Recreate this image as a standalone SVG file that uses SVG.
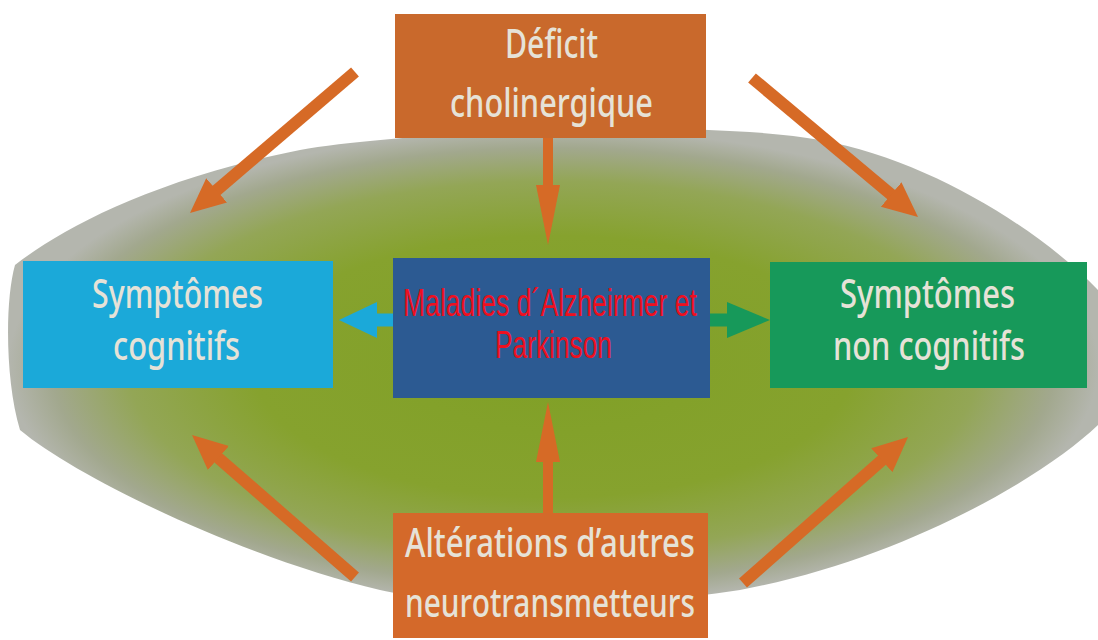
<svg xmlns="http://www.w3.org/2000/svg" width="1098" height="640" viewBox="0 0 1098 640">
  <defs>
    <radialGradient id="blobGrad" cx="50%" cy="50%" r="50%">
      <stop offset="0" stop-color="#80a026"/>
      <stop offset="0.55" stop-color="#86a22e"/>
      <stop offset="0.78" stop-color="#93a656"/>
      <stop offset="0.92" stop-color="#a2a88e"/>
      <stop offset="1" stop-color="#b4b6ae"/>
    </radialGradient>
    <marker id="headOrange" markerUnits="userSpaceOnUse" markerWidth="40" markerHeight="36" viewBox="0 -18 40 36" refX="2" refY="0" orient="auto">
      <path d="M0,-16 L35,0 L0,16 Z" fill="#d66a26"/>
    </marker>
    <marker id="headOrangeV" markerUnits="userSpaceOnUse" markerWidth="64" markerHeight="28" viewBox="0 -14 64 28" refX="2" refY="0" orient="auto">
      <path d="M0,-12 L60,0 L0,12 Z" fill="#d66a26"/>
    </marker>
    <marker id="headCyan" markerUnits="userSpaceOnUse" markerWidth="44" markerHeight="40" viewBox="0 -20 44 40" refX="2" refY="0" orient="auto">
      <path d="M0,-18 L38,0 L0,18 Z" fill="#1ba9d9"/>
    </marker>
    <marker id="headGreen" markerUnits="userSpaceOnUse" markerWidth="48" markerHeight="40" viewBox="0 -20 48 40" refX="2" refY="0" orient="auto">
      <path d="M0,-18 L43,0 L0,18 Z" fill="#17995a"/>
    </marker>
  </defs>
  <style>
    .lbl { font-family: "Noto Sans", "Open Sans", "Liberation Sans", sans-serif; font-size: 40px; font-weight: 500; fill: #e6e2d7; text-anchor: middle; }
    .red { font-family: "Liberation Sans", Arial, sans-serif; font-size: 38px; fill: #ee1020; text-anchor: middle; }
    .orange { stroke: #d66a26; stroke-width: 12; fill: none; }
  </style>
  <rect x="0" y="0" width="1098" height="640" fill="#ffffff"/>
  <path id="blob" d="M15,265 C60,230 150,180 300,150 C400,132 700,118 820,140 C930,160 1040,230 1098,290 L1098,425 C1040,480 900,560 740,590 C600,612 450,606 380,590 C250,560 80,480 20,430 C5,380 5,300 15,265 Z" fill="url(#blobGrad)"/>

  <g id="connectors">
    <line class="orange" x1="355" y1="72" x2="215.1" y2="191.6" marker-end="url(#headOrange)"/>
    <line class="orange" x1="752" y1="78" x2="892.7" y2="195.8" marker-end="url(#headOrange)"/>
    <line class="orange" x1="355" y1="577" x2="216.9" y2="456.7" marker-end="url(#headOrange)"/>
    <line class="orange" x1="743" y1="583" x2="883.3" y2="458.9" marker-end="url(#headOrange)"/>
    <line stroke="#d66a26" stroke-width="10" x1="548" y1="136" x2="548" y2="187" marker-end="url(#headOrangeV)"/>
    <line stroke="#d66a26" stroke-width="10" x1="548" y1="516" x2="548" y2="460" marker-end="url(#headOrangeV)"/>
    <line stroke="#1ba9d9" stroke-width="13" x1="395" y1="320" x2="375" y2="320" marker-end="url(#headCyan)"/>
    <line stroke="#17995a" stroke-width="13" x1="708" y1="320" x2="729" y2="320" marker-end="url(#headGreen)"/>
  </g>

  <g id="deficit">
    <rect x="395" y="14" width="311" height="124" fill="#c9692c"/>
    <text class="lbl" x="551.5" y="58" textLength="93" lengthAdjust="spacingAndGlyphs">Déficit</text>
    <text class="lbl" x="551.5" y="117" textLength="203" lengthAdjust="spacingAndGlyphs">cholinergique</text>
  </g>

  <g id="maladies">
    <rect x="393" y="258" width="317" height="140" fill="#2c5a92"/>
    <text class="red" x="550" y="316" textLength="294" lengthAdjust="spacingAndGlyphs">Maladies d´Alzheirmer et</text>
    <text class="red" x="553.5" y="358" textLength="117" lengthAdjust="spacingAndGlyphs">Parkinson</text>
  </g>

  <g id="cognitifs">
    <rect x="23" y="261" width="310" height="127" fill="#1ba9d9"/>
    <text class="lbl" x="177.5" y="308" textLength="171" lengthAdjust="spacingAndGlyphs">Symptômes</text>
    <text class="lbl" x="176.5" y="360" textLength="127" lengthAdjust="spacingAndGlyphs">cognitifs</text>
  </g>

  <g id="noncognitifs">
    <rect x="770" y="262" width="317" height="126" fill="#17995a"/>
    <text class="lbl" x="927.5" y="308" textLength="175" lengthAdjust="spacingAndGlyphs">Symptômes</text>
    <text class="lbl" x="929" y="360" textLength="192" lengthAdjust="spacingAndGlyphs">non cognitifs</text>
  </g>

  <g id="alterations">
    <rect x="393" y="513" width="315" height="125" fill="#d4692a"/>
    <text class="lbl" x="550" y="557" textLength="290" lengthAdjust="spacingAndGlyphs">Altérations d’autres</text>
    <text class="lbl" x="550" y="617" textLength="290" lengthAdjust="spacingAndGlyphs">neurotransmetteurs</text>
  </g>
</svg>
